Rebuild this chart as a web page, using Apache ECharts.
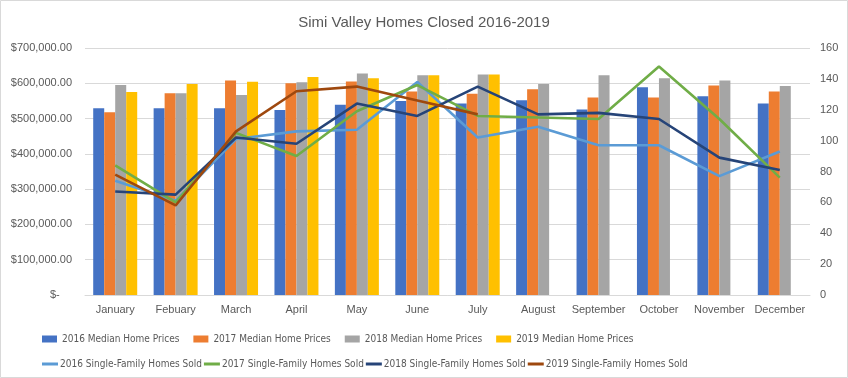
<!DOCTYPE html>
<html><head><meta charset="utf-8">
<script src="https://cdn.jsdelivr.net/npm/echarts@6/dist/echarts.min.js"></script>
<style>html,body{margin:0;padding:0;background:#fff}#c{width:848px;height:378px}</style>
</head><body><div id="c"></div>
<script>
const months = ['January','Febuary','March','April','May','June','July','August','September','October','November','December'];
const price2016 = [529000,529000,529000,524000,539000,550000,543000,552000,526000,589000,563000,543000];
const price2017 = [518000,572000,608000,600000,605000,577000,570000,583000,560000,560000,594000,577000];
const price2018 = [595000,572000,567000,603000,628000,623000,625000,598000,623000,614000,608000,592000];
const price2019 = [575000,598000,604000,618000,614000,623000,625000,null,null,null,null,null];
const sold2016 = [74,61,101,106,107,138,102,109,97,97,77,93];
const sold2017 = [84,60,105,90,119,136,116,115,114,148,114,76];
const sold2018 = [67,65,102,98,124,116,135,117,118,114,89,81];
const sold2019 = [78,58,106,132,135,126,117,null,null,null,null,null];
const leftTicks = {min:0, max:700000, interval:100000};
const rightTicks = {min:0, max:160, interval:20};

const txt = '#595959';
const font = 'Liberation Sans';
const narrow = '"Liberation Sans Narrow", "DejaVu Sans Condensed", "Liberation Sans"';
const barNames = ['2016 Median Home Prices','2017 Median Home Prices','2018 Median Home Prices','2019 Median Home Prices'];
const lineNames = ['2016 Single-Family Homes Sold','2017 Single-Family Homes Sold','2018 Single-Family Homes Sold','2019 Single-Family Homes Sold'];
const barColors = ['#4472C4','#ED7D31','#A5A5A5','#FFC000'];
const lineColors = ['#5B9BD5','#70AD47','#264478','#9E480E'];
const priceData = [price2016,price2017,price2018,price2019];
const soldData = [sold2016,sold2017,sold2018,sold2019];

const series = [];
priceData.forEach((d,i)=>series.push({name:barNames[i],type:'bar',data:d,yAxisIndex:0,barWidth:11,barGap:'0%',itemStyle:{color:barColors[i]}}));
soldData.forEach((d,i)=>series.push({name:lineNames[i],type:'line',data:d,yAxisIndex:1,symbol:'none',lineStyle:{width:2.6,color:lineColors[i]},itemStyle:{color:lineColors[i]}}));

const chart = echarts.init(document.getElementById('c'));
chart.setOption({
  animation:false,
  textStyle:{fontFamily:font},
  title:{text:'Simi Valley Homes Closed 2016-2019',left:'center',top:10,textStyle:{fontFamily:font,fontSize:15,fontWeight:'normal',color:txt}},
  graphic:[{type:'rect',shape:{x:0.5,y:0.5,width:847,height:377},style:{fill:'none',stroke:'#d9d9d9',lineWidth:1},silent:true}],
  grid:{left:85,right:38,top:48,bottom:83},
  legend:[
    {data:barNames,left:37,top:329,itemWidth:15,itemHeight:7,itemGap:14,icon:'rect',textStyle:{fontFamily:narrow,fontSize:10,color:txt}},
    {data:lineNames.map(n=>({name:n,icon:'rect'})),left:37,top:354,itemWidth:16,itemHeight:3,itemGap:2,textStyle:{fontFamily:narrow,fontSize:10,color:txt,padding:[0,0,0,-3]}}
  ],
  xAxis:{type:'category',data:months,axisTick:{show:false},axisLine:{lineStyle:{color:'#d9d9d9'}},axisLabel:{color:txt,fontSize:11,margin:9,interval:0}},
  yAxis:[
    {type:'value',min:leftTicks.min,max:leftTicks.max,interval:leftTicks.interval,axisLine:{show:false},axisTick:{show:false},
     splitLine:{lineStyle:{color:'#d9d9d9'}},
     axisLabel:{color:txt,fontSize:11,margin:13,formatter:v=>v===0?'$-    ':'$'+v.toLocaleString('en-US',{minimumFractionDigits:2,maximumFractionDigits:2})}},
    {type:'value',min:rightTicks.min,max:rightTicks.max,interval:rightTicks.interval,axisLine:{show:false},axisTick:{show:false},splitLine:{show:false},
     axisLabel:{color:txt,fontSize:11,margin:10}}
  ],
  series:series
});
</script></body></html>
